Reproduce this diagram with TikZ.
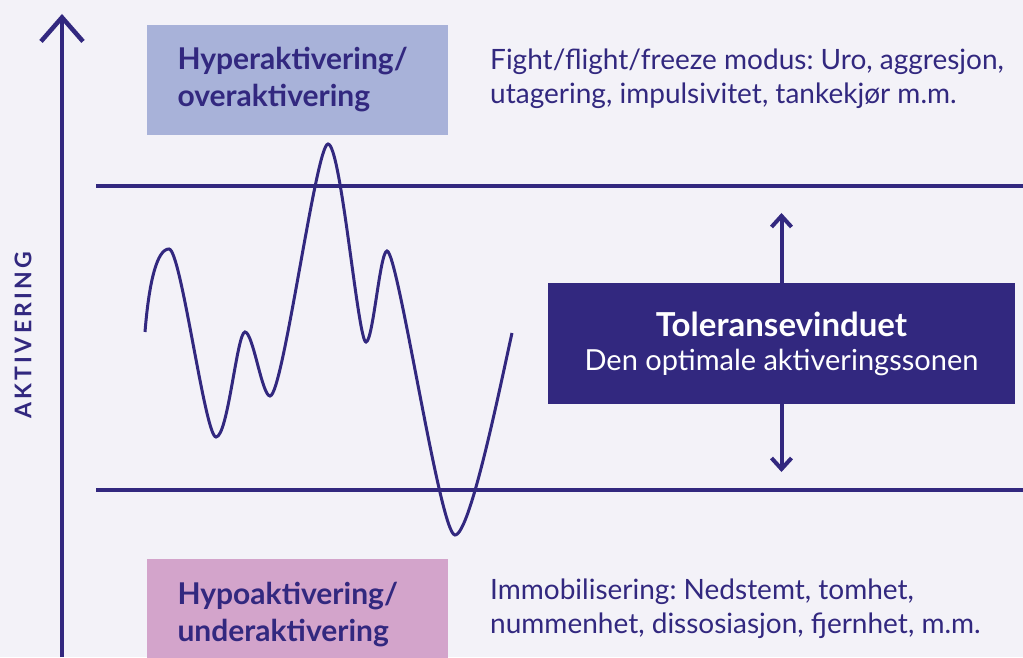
\documentclass[tikz,border=0pt]{standalone}
\usepackage{fontspec}
\setmainfont{Lato}
\usetikzlibrary{arrows.meta,positioning}
\definecolor{navy}{HTML}{32287F}
\definecolor{bgcol}{HTML}{F3F2F8}
\definecolor{hypercol}{HTML}{A8B2D9}
\definecolor{hypocol}{HTML}{D3A4CB}
\tikzset{
every node/.style={inner sep=0pt, text=navy},
zonebox/.style={rectangle, minimum width=301pt, minimum height=110pt, text width=240pt, align=left, font=\fontsize{30}{37}\selectfont\bfseries},
note/.style={align=left, anchor=west, font=\fontsize{28}{34}\selectfont},
limit/.style={draw=navy, line width=4.5pt},
updown/.style={draw=navy, line width=4pt, -{Straight Barb[length=11pt,width=20pt]}}
}

\begin{document}
\frenchspacing
\begin{tikzpicture}[x=1pt,y=1pt]
\fill[bgcol] (0,0) rectangle (1023,657);
\useasboundingbox (0,0) rectangle (1023,657);
\clip (0,0) rectangle (1023,657);

% axis
\coordinate (AXB) at (62,0);
\coordinate (AXT) at (62,643);
\draw[navy, line width=4.5pt, -{Straight Barb[length=24pt,width=42pt]}] (AXB) -- (AXT);
\node[rotate=90, font=\fontsize{23}{23}\selectfont\bfseries\addfontfeatures{LetterSpace=14}] (AKT) at (23,322) {AKTIVERING};

% window limits
\coordinate (HL) at (96,471);
\coordinate (HR) at (1023,471);
\coordinate (LL) at (96,167);
\coordinate (LR) at (1023,167);
\draw[limit] (HL) -- (HR);
\draw[limit] (LL) -- (LR);

% zones
\node[zonebox, fill=hypercol] (HYPER) at (297.5,577) {Hyperaktivering/\\overaktivering};
\node[zonebox, fill=hypocol, anchor=north] (HYPO) at (297.5,98) {Hypoaktivering/\\underaktivering};
\node[note] (FFF) at (490,578) {Fight/flight/freeze modus: Uro, aggresjon,\\utagering, impulsivitet, tankekjør m.m.};
\node[note] (IMM) at (490,48) {Immobilisering: Nedstemt, tomhet,\\nummenhet, dissosiasjon, fjernhet, m.m.};

% tolerance window
\node[fill=navy, minimum width=467pt, minimum height=121pt, align=center, text=white, font=\fontsize{29}{34}\selectfont] (TOL) at (781.5,313.5) {{\fontsize{33}{34}\selectfont\bfseries Toleransevinduet}\\Den optimale aktiveringssonen};
\coordinate (TT) at (781.5,444);
\coordinate (TB) at (781.5,185);
\draw[updown] (TOL.north) -- (TT);
\draw[updown] (TOL.south) -- (TB);

% activation curve
\draw[navy, line width=3pt] (145,325)
  .. controls (149,375) and (157,408) .. (169,408)
  .. controls (181,408) and (205,220) .. (216,220)
  .. controls (228,220) and (237,325) .. (245,325)
  .. controls (253,325) and (262,261) .. (270,261)
  .. controls (283,261) and (316,513) .. (328,513)
  .. controls (341,513) and (358,315) .. (366,315)
  .. controls (373,315) and (380,406) .. (387,406)
  .. controls (398,406) and (440,122) .. (455,122)
  .. controls (470,122) and (500,270) .. (512,324);
\end{tikzpicture}
\end{document}
